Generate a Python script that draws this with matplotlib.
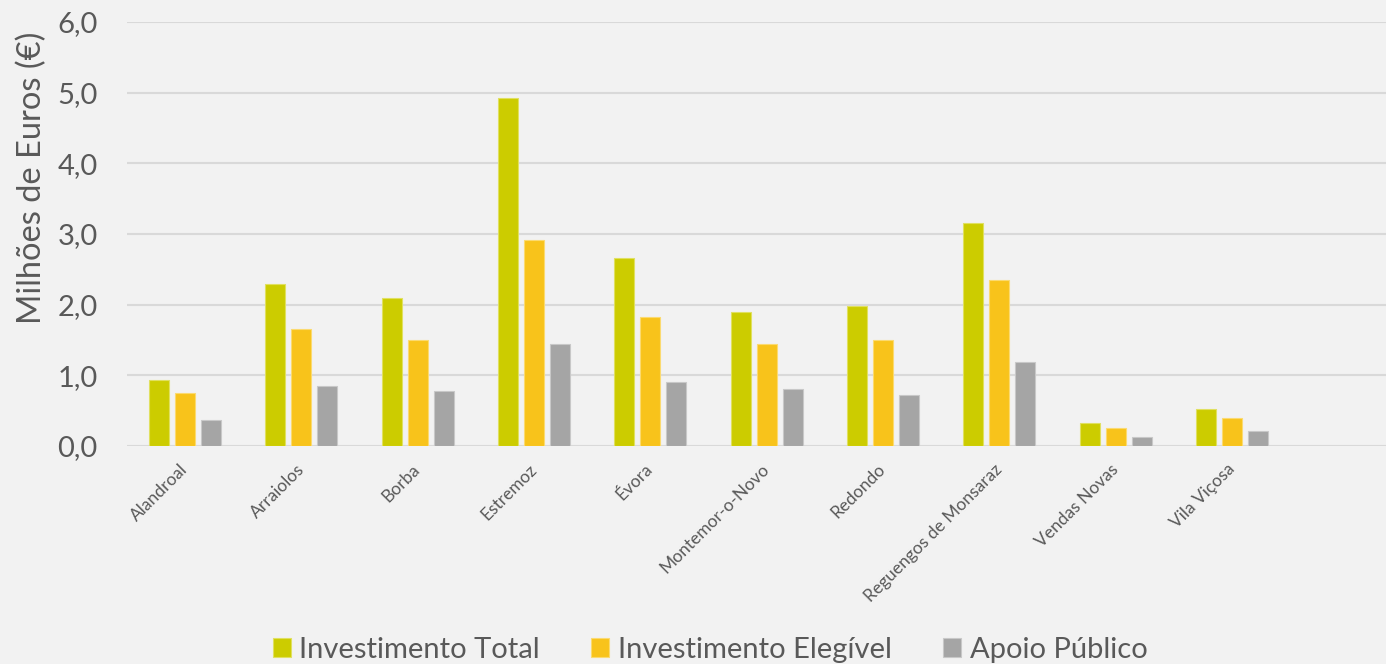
import numpy as np
import matplotlib
matplotlib.use("Agg")
import matplotlib.pyplot as plt

plt.rcParams['font.family'] = ['Lato', 'DejaVu Sans']

municipios = ['Alandroal', 'Arraiolos', 'Borba', 'Estremoz', 'Évora',
              'Montemor-o-Novo', 'Redondo', 'Reguengos de Monsaraz',
              'Vendas Novas', 'Vila Viçosa']
inv_total = [0.93, 2.29, 2.10, 4.93, 2.66, 1.90, 1.98, 3.15, 0.33, 0.53]
inv_elegivel = [0.75, 1.66, 1.50, 2.92, 1.83, 1.44, 1.50, 2.35, 0.26, 0.40]
apoio_publico = [0.37, 0.85, 0.78, 1.44, 0.90, 0.81, 0.72, 1.19, 0.13, 0.21]

series = [('Investimento Total', inv_total, '#CCCC00', '#E0E060'),
          ('Investimento Elegível', inv_elegivel, '#F8C31B', '#FBDA70'),
          ('Apoio Público', apoio_publico, '#A5A5A5', '#C8C8C8')]

bg = '#F2F2F2'
txt = '#595959'

fig = plt.figure(figsize=(13.86, 6.64), dpi=100, facecolor=bg)
ax = fig.add_axes([127/1386, 1 - 446/664, 1 - 127/1386, (446 - 22)/664])
ax.set_facecolor(bg)

x = np.arange(len(municipios))
step = 26/116.3
width = 20/116.3
for i, (name, vals, col, edge) in enumerate(series):
    ax.bar(x + (i - 1)*step, vals, width, color=col, edgecolor=edge,
           linewidth=0.8, label=name, zorder=3)

ax.set_ylim(0, 6)
ax.set_xlim(-0.5, (1386 - 127)/116.3 - 0.5)
ax.set_yticks(np.arange(0, 7, 1))
ax.set_yticklabels([f'{v:.1f}'.replace('.', ',') for v in np.arange(0, 7, 1)],
                   fontsize=21, color=txt)
ax.grid(axis='y', color='#D9D9D9', linewidth=1.5, zorder=0)
ax.tick_params(axis='y', length=0, pad=21)
ax.tick_params(axis='x', length=0, pad=15)
for s in ax.spines.values():
    s.set_visible(False)

ax.set_xticks(x)
ax.set_xticklabels(municipios, rotation=45, ha='right', va='center',
                   rotation_mode='anchor', fontsize=12.5, color=txt)

ax.set_ylabel('Milhões de Euros (€)', fontsize=23.5, color=txt)
ax.yaxis.set_label_coords(-80/1259, 0.633)

fig.legend(loc='center', bbox_to_anchor=(710/1386, 14/664), ncol=3,
           frameon=False, fontsize=21, labelcolor=txt,
           handlelength=0.62, handleheight=0.62, handletextpad=0.3,
           columnspacing=1.75)

fig.savefig('out.png', dpi=100, facecolor=bg)
